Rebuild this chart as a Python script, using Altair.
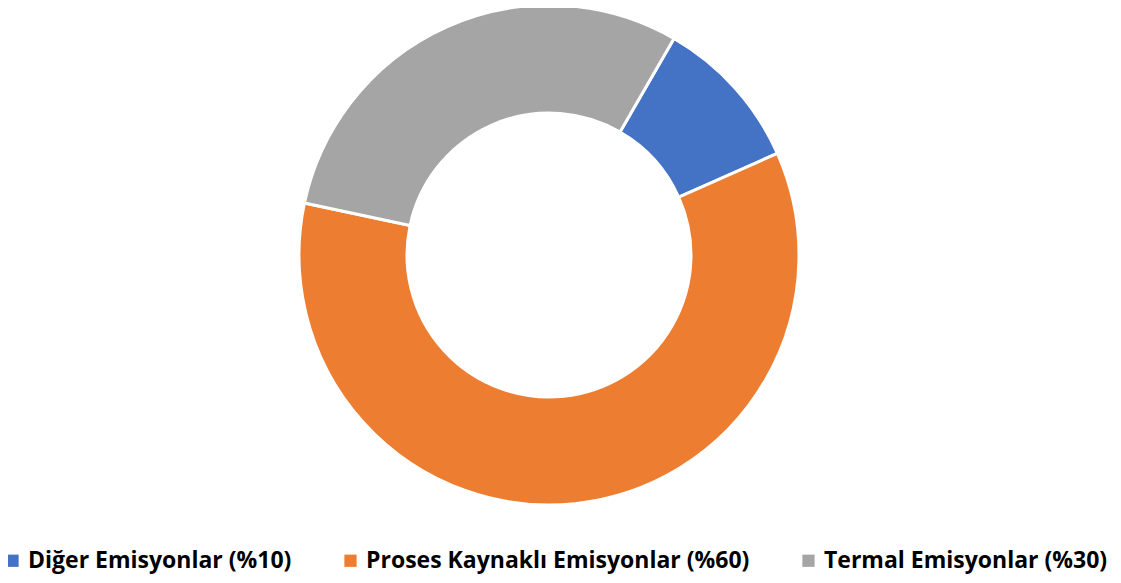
import altair as alt
import pandas as pd
import math

categories = ["Diğer Emisyonlar (%10)", "Proses Kaynaklı Emisyonlar (%60)", "Termal Emisyonlar (%30)"]
values = [10, 60, 30]
colors = ["#4472C4", "#ED7D31", "#A5A5A5"]

df = pd.DataFrame({"kategori": categories, "deger": values, "sira": [0, 1, 2]})

start = math.pi / 6

chart = alt.Chart(df).mark_arc(
    innerRadius=142, outerRadius=250, stroke="white", strokeWidth=3,
    x=541, y=247
).encode(
    theta=alt.Theta("deger:Q", stack=True, scale=alt.Scale(range=[start, start + 2 * math.pi])),
    order=alt.Order("sira:Q"),
    color=alt.Color(
        "kategori:N",
        scale=alt.Scale(domain=categories, range=colors),
        sort=categories,
        legend=alt.Legend(
            title=None, orient="none", direction="horizontal",
            legendX=-7, legendY=541,
            symbolType="square", symbolSize=150, symbolStrokeWidth=0,
            labelFont="Open Sans", labelFontSize=23, labelFontWeight="bold",
            labelColor="black", labelOffset=4, columnPadding=47,
            labelLimit=500, padding=0,
        ),
    ),
).properties(
    width=1105, height=567, autosize=alt.AutoSizeParams(type="none"), padding=0
).configure_view(stroke=None)

chart.save("out.html", embed_options={"renderer": "svg", "actions": False})
